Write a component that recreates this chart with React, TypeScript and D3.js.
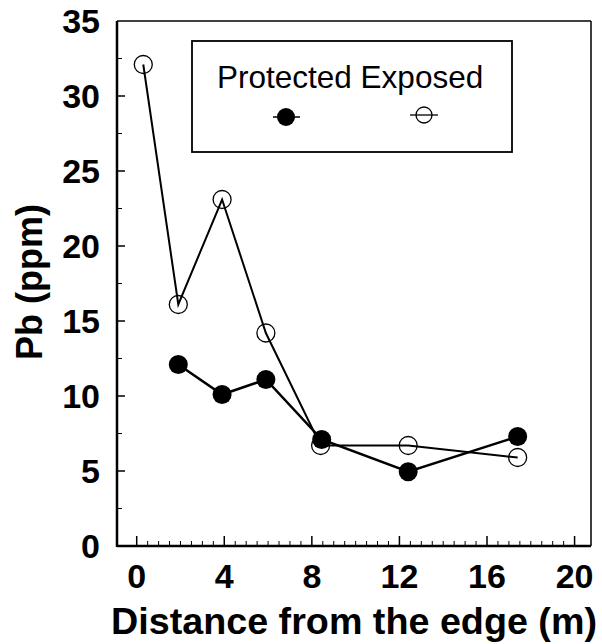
import React from 'react';
import * as d3 from 'd3';

// distance from the edge (m)
const exposedX = [0.3, 1.9, 3.9, 5.9, 8.4, 12.4, 17.4];
const exposedPb = [32.1, 16.1, 23.1, 14.2, 6.7, 6.7, 5.9];
const protectedX = [1.9, 3.9, 5.9, 8.45, 12.4, 17.4];
const protectedPb = [12.1, 10.1, 11.1, 7.1, 4.95, 7.3];
const xTicks = [0, 4, 8, 12, 16, 20];
const yTicks = [0, 5, 10, 15, 20, 25, 30, 35];
const legendLabels = ['Protected', 'Exposed'];

const FONT = 'Arial, "Liberation Sans", Helvetica, sans-serif';

const App = () => {
  const left = 117, right = 591, top = 21, bottom = 546;
  const x = d3.scaleLinear().domain([-0.9, 20.75]).range([left, right]);
  const y = d3.scaleLinear().domain([0, 35]).range([bottom, top]);

  const line = d3.line<[number, number]>()
    .x(d => x(d[0]))
    .y(d => y(d[1]));

  const exposed: [number, number][] = exposedX.map((v, i) => [v, exposedPb[i]]);
  const prot: [number, number][] = protectedX.map((v, i) => [v, protectedPb[i]]);

  const xMinor = d3.range(0, 20.01, 0.5).filter(v => v % 4 !== 0);
  const yMinor = d3.range(2.5, 35, 5);

  return (
    <svg width={602} height={644} style={{ position: 'absolute', left: 0, top: 0, background: '#fff' }}
      fontFamily={FONT}>
      {/* frame */}
      <line x1={left} y1={top} x2={right} y2={top} stroke="#000" strokeWidth={1.5} />
      <line x1={right} y1={top} x2={right} y2={bottom} stroke="#000" strokeWidth={1.5} />
      <line x1={left} y1={top} x2={left} y2={bottom + 1} stroke="#000" strokeWidth={2.5} />
      <line x1={left} y1={bottom} x2={right} y2={bottom} stroke="#000" strokeWidth={2.5} />

      {/* y ticks */}
      {yTicks.map(t => (
        <g key={'y' + t}>
          {t > 0 && t < 35 && <line x1={left} x2={left + 8} y1={y(t)} y2={y(t)} stroke="#000" strokeWidth={1.5} />}
          <text x={100} y={y(t)} dy="0.36em" textAnchor="end" fontSize={34} fontWeight="bold">{t}</text>
        </g>
      ))}
      {yMinor.map(t => (
        <line key={'ym' + t} x1={left} x2={left + 5} y1={y(t)} y2={y(t)} stroke="#000" strokeWidth={1} />
      ))}

      {/* x ticks */}
      {xTicks.map(t => (
        <g key={'x' + t}>
          <line x1={x(t)} x2={x(t)} y1={bottom} y2={bottom - 10} stroke="#000" strokeWidth={1.5} />
          <text x={x(t)} y={588} textAnchor="middle" fontSize={34} fontWeight="bold">{t}</text>
        </g>
      ))}
      {xMinor.map(t => (
        <line key={'xm' + t} x1={x(t)} x2={x(t)} y1={bottom} y2={bottom - 5} stroke="#000" strokeWidth={1} />
      ))}

      {/* axis titles */}
      <text x={354} y={634} textAnchor="middle" fontSize={36} fontWeight="bold"
        textLength={486} lengthAdjust="spacingAndGlyphs">Distance from the edge (m)</text>
      <text transform="translate(42,282) rotate(-90)" textAnchor="middle" fontSize={36} fontWeight="bold">Pb (ppm)</text>

      {/* series */}
      <path d={line(exposed) || ''} fill="none" stroke="#000" strokeWidth={2} />
      <path d={line(prot) || ''} fill="none" stroke="#000" strokeWidth={2.5} />
      {exposed.map((d, i) => (
        <circle key={'e' + i} cx={x(d[0])} cy={y(d[1])} r={9} fill="none" stroke="#000" strokeWidth={1.3} />
      ))}
      {prot.map((d, i) => (
        <circle key={'p' + i} cx={x(d[0])} cy={y(d[1])} r={9.5} fill="#000" />
      ))}

      {/* legend */}
      <rect x={192} y={41} width={320} height={111} fill="#fff" stroke="#000" strokeWidth={1.8} />
      <text x={217} y={88} fontSize={31.5}>{legendLabels[0]} {legendLabels[1]}</text>
      <line x1={273} x2={300} y1={117} y2={117} stroke="#000" strokeWidth={1.5} />
      <circle cx={286} cy={117} r={9} fill="#000" />
      <line x1={410} x2={438} y1={115} y2={115} stroke="#000" strokeWidth={1.3} />
      <circle cx={424} cy={115} r={8} fill="none" stroke="#000" strokeWidth={1.3} />
    </svg>
  );
};

export default App;
